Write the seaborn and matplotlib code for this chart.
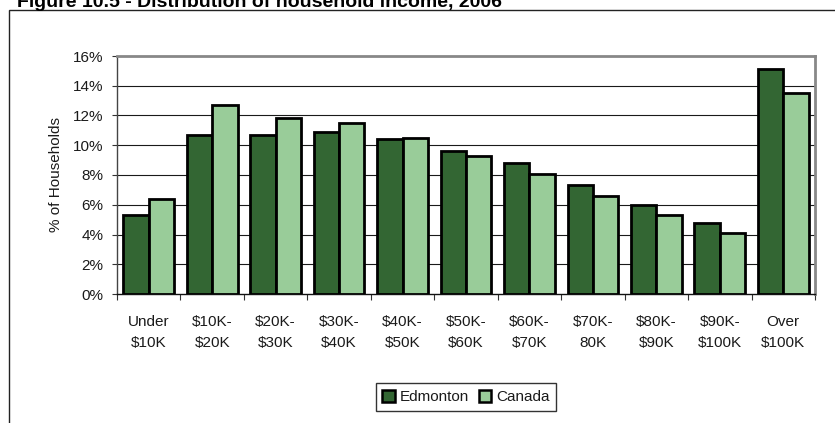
import matplotlib
matplotlib.use("Agg")
import matplotlib.pyplot as plt
from matplotlib.patches import Rectangle, Patch
from matplotlib.ticker import FixedLocator, PercentFormatter
import seaborn as sns
import pandas as pd

# Household income distribution, share of households (%)
categories = ["Under\n$10K", "$10K-\n$20K", "$20K-\n$30K", "$30K-\n$40K", "$40K-\n$50K",
              "$50K-\n$60K", "$60K-\n$70K", "$70K-\n80K", "$80K-\n$90K", "$90K-\n$100K",
              "Over\n$100K"]
edmonton = [5.3, 10.7, 10.7, 10.9, 10.4, 9.6, 8.8, 7.3, 6.0, 4.8, 15.1]
canada = [6.4, 12.7, 11.8, 11.5, 10.5, 9.3, 8.1, 6.6, 5.3, 4.1, 13.5]
series_names = ["Edmonton", "Canada"]
series_colors = ["#336633", "#99CC99"]
y_ticks = [0, 2, 4, 6, 8, 10, 12, 14, 16]

df = pd.DataFrame({
    "category": categories * 2,
    "series": [series_names[0]] * len(categories) + [series_names[1]] * len(categories),
    "value": edmonton + canada,
})

sns.set_style("white")
plt.rcParams["font.family"] = ["Liberation Sans", "DejaVu Sans"]
plt.rcParams["text.color"] = "#1a1a1a"
plt.rcParams["xtick.color"] = "#1a1a1a"
plt.rcParams["ytick.color"] = "#1a1a1a"
plt.rcParams["axes.labelcolor"] = "#1a1a1a"

W, H = 835, 423
fs = 11
fig = plt.figure(figsize=(W / 100, H / 100), dpi=100)
fig.patch.set_facecolor("white")

# outer frame around the chart area
fig.patches.append(Rectangle((9 / W, -0.1), 1.2, 1 - 10 / H + 0.1,
                             transform=fig.transFigure, fill=False,
                             edgecolor="#222222", linewidth=1.0))

fig.text(17 / W, 1 - 7 / H, "Figure 10.5 - Distribution of household income, 2006",
         ha="left", va="baseline", fontsize=14, fontweight="bold", color="black")

ax = fig.add_axes([117 / W, 1 - 294 / H, (815 - 117) / W, (294 - 56) / H])

sns.barplot(data=df, x="category", y="value", hue="series",
            palette=series_colors, width=0.8, dodge=True,
            edgecolor="black", linewidth=2.0, saturation=1, ax=ax, legend=False,
            zorder=3)

ax.set_xlim(-0.5, len(categories) - 0.5)
ax.set_ylim(0, 16)
ax.yaxis.set_major_locator(FixedLocator(y_ticks))
ax.yaxis.set_major_formatter(PercentFormatter(decimals=0))
for v in y_ticks[1:-1]:
    ax.axhline(v, color="#1a1a1a", linewidth=0.8, zorder=1)

ax.set_xlabel("")
ax.set_ylabel("% of Households", fontsize=fs, labelpad=7)
ax.tick_params(axis="y", which="major", direction="out", length=3.6, width=0.8,
               color="#333333", labelsize=fs, pad=6, left=True)
ax.tick_params(axis="x", which="major", length=0, labelsize=fs, pad=15)
ax.xaxis.set_minor_locator(FixedLocator([i + 0.5 for i in range(-1, len(categories))]))
ax.tick_params(axis="x", which="minor", direction="out", length=4, width=0.8,
               color="#333333", bottom=True)
for lbl in ax.get_xticklabels():
    lbl.set_linespacing(1.65)

for side in ["top", "right"]:
    ax.spines[side].set_visible(True)
    ax.spines[side].set_color("#888888")
    ax.spines[side].set_linewidth(2.0)
ax.spines["left"].set_color("#444444")
ax.spines["left"].set_linewidth(1.0)
ax.spines["bottom"].set_color("#111111")
ax.spines["bottom"].set_linewidth(1.0)
ax.grid(False)

handles = [Patch(facecolor=c, edgecolor="black", linewidth=1.8, label=n)
           for c, n in zip(series_colors, series_names)]
leg = fig.legend(handles=handles, loc="center", bbox_to_anchor=(466 / W, 1 - 397 / H),
                 ncol=2, fontsize=fs, frameon=True, fancybox=False,
                 handlelength=0.8, handleheight=0.8, handletextpad=0.3,
                 columnspacing=0.7, borderpad=0.45, borderaxespad=0)
leg.get_frame().set_edgecolor("black")
leg.get_frame().set_linewidth(1.0)

fig.savefig("out.png", dpi=100)
